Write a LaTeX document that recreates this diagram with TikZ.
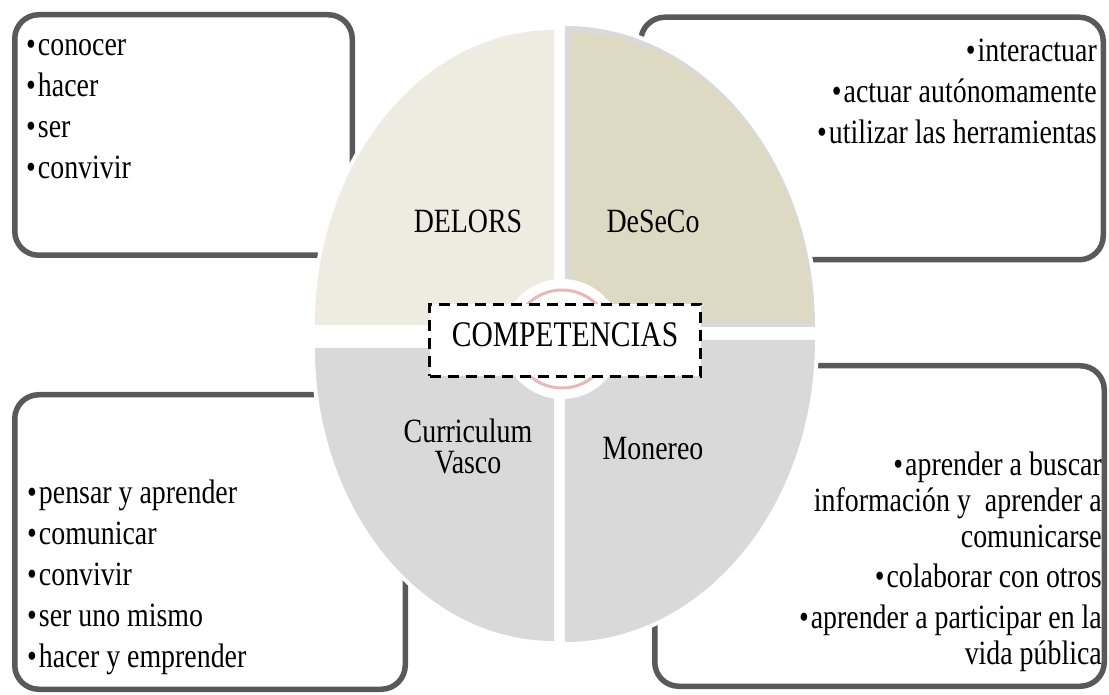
\documentclass[tikz,border=0pt]{standalone}
\usepackage{fontspec}
\setmainfont{Liberation Serif}[FakeStretch=0.82]
\usepackage{tikz}
\usetikzlibrary{positioning}
\definecolor{boxgray}{HTML}{595959}
\definecolor{delorsfill}{HTML}{EEECE1}
\definecolor{desecofill}{HTML}{DDD9C3}
\definecolor{quadgray}{HTML}{D9D9D9}
\definecolor{ringpink}{HTML}{E6B9B8}
\def\itm{\strut\textbullet\kern2pt}
\def\bigtxt{\fontsize{34}{41}\selectfont}
\tikzset{
  listbox/.style={draw=boxgray, line width=5.5pt, rounded corners=24pt},
  listtext/.style={inner sep=0pt, font=\bigtxt},
  quadlabel/.style={inner sep=0pt, font=\bigtxt},
  halo/.style={preaction={draw=white, line width=8pt}}
}

\begin{document}
\begin{tikzpicture}[x=1pt, y=1pt]
\useasboundingbox (0,0) rectangle (1109,694);

\node[listbox, minimum width=337.5pt, minimum height=240.5pt] (delorsbox) at (183.5,559) {};
\node[listbox, minimum width=462.5pt, minimum height=242.5pt] (desecobox) at (872,555.5) {};
\node[listbox, minimum width=390.5pt, minimum height=294.5pt] (vascobox) at (210,152) {};
\node[listbox, minimum width=449.5pt, minimum height=320.5pt] (monereobox) at (879.5,168) {};

\fill[delorsfill, halo] (554,369) -- (315,369) arc[start angle=180, end angle=90, x radius=239pt, y radius=295pt] -- cycle;
\fill[quadgray, halo] (565,367) -- (815,367) arc[start angle=0, end angle=90, x radius=250pt, y radius=301pt] -- cycle;
\fill[desecofill] (570,372) -- (811,372) arc[start angle=0, end angle=90, x radius=241pt, y radius=290pt] -- cycle;
\fill[quadgray, halo] (554,346) -- (315,346) arc[start angle=180, end angle=270, x radius=239pt, y radius=293pt] -- cycle;
\fill[quadgray, halo] (565,354) -- (815,354) arc[start angle=0, end angle=-90, x radius=250pt, y radius=302pt] -- cycle;

\fill[white] (562,355) circle[radius=60pt];
\draw[ringpink, line width=3pt] (562,355) circle[radius=49pt];

\node[draw, dash pattern=on 11pt off 7pt, line width=3pt, fill=white, minimum width=271pt, minimum height=72pt, text depth=11pt, font=\fontsize{36}{41}\selectfont] (comp) at (565,353.5) {COMPETENCIAS};

\node[quadlabel, anchor=base] (delors) at (468,461) {DELORS};
\node[quadlabel, anchor=base] (deseco) at (653,461) {DeSeCo};
\node[quadlabel, align=center, font=\fontsize{34}{31}\selectfont] (vasco) at (468,248) {Curriculum\\Vasco};
\node[quadlabel, anchor=base] (monereo) at (653,234) {Monereo};

\node[listtext, align=left, below right=15pt and 14pt of delorsbox.north west] (delorslist) {\itm conocer\\\itm hacer\\\itm ser\\\itm convivir};
\node[listtext, align=right, below left=18.5pt and 9pt of desecobox.north east] (desecolist) {\itm interactuar\\\itm actuar autónomamente\\\itm utilizar las herramientas};
\node[listtext, align=left, above right=12pt and 15pt of vascobox.south west] (vascolist) {\itm pensar y aprender\\\itm comunicar\\\itm convivir\\\itm ser uno mismo\\\itm hacer y emprender};
\node[listtext, align=right, font=\fontsize{34}{36}\selectfont, above left=13.2pt and 5pt of monereobox.south east] (monereolist) {\itm aprender a buscar\\información y~ aprender a\\comunicarse\\[4pt]\itm colaborar con otros\\[5pt]\itm aprender a participar en la\\vida pública\strut};
\end{tikzpicture}
\end{document}
